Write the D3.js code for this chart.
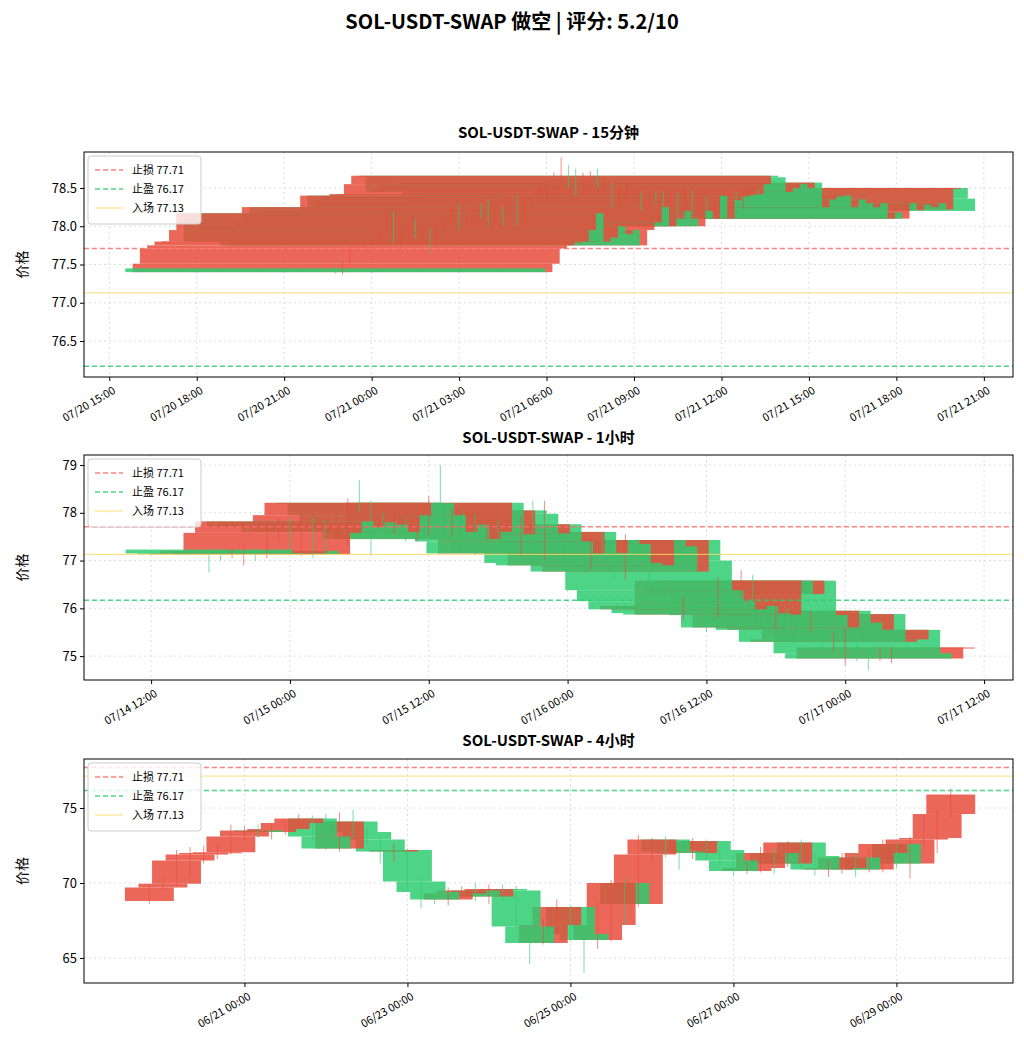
<!DOCTYPE html>
<html>
<head>
<meta charset="utf-8">
<script src="https://cdn.jsdelivr.net/npm/d3@7"></script>
<style>
  body { margin: 0; background: #fff; }
  text { font-family: "Noto Sans CJK SC", "DejaVu Sans", sans-serif; }
</style>
</head>
<body>
<svg id="chart" width="1024" height="1058"></svg>
<script>
'use strict';

// levels
var stopLoss = 77.71,
    takeProfit = 76.17,
    entry = 77.13;

// 15m
var start15 = '2025-07-20T22:45:00Z';
var open15First = 77.45;
var close15 = [77.40, 77.51, 77.71, 77.75, 77.80, 77.80, 77.95, 78.17, 77.80, 77.85,
  78.00, 77.90, 77.95, 77.75, 77.95, 78.05, 78.25, 78.00, 78.10, 78.20,
  78.10, 78.00, 78.20, 78.10, 78.40, 78.10, 78.34, 78.39, 78.42, 78.42,
  78.55, 78.66, 78.64, 78.45, 78.50, 78.55, 78.50, 78.57, 78.25, 78.35,
  78.40, 78.40, 78.25, 78.35, 78.30, 78.25, 78.30, 78.10, 78.18, 78.10,
  78.30, 78.21, 78.28, 78.25, 78.30, 78.22, 78.50, 78.50, 78.36, 78.20];
var high15 = [77.47, 77.55, 77.74, 77.78, 77.83, 77.84, 77.98, 78.20, 78.19, 77.95,
  78.05, 78.10, 78.00, 77.98, 78.05, 78.10, 78.28, 78.30, 78.20, 78.25,
  78.30, 78.35, 78.30, 78.25, 78.40, 78.30, 78.38, 78.45, 78.55, 78.60,
  78.70, 78.90, 78.80, 78.75, 78.70, 78.72, 78.75, 78.62, 78.55, 78.50,
  78.55, 78.50, 78.45, 78.45, 78.45, 78.45, 78.40, 78.45, 78.50, 78.48,
  78.40, 78.38, 78.35, 78.35, 78.45, 78.45, 78.52, 78.55, 78.50, 78.40];
var low15 = [77.38, 77.37, 77.49, 77.69, 77.72, 77.76, 77.78, 77.93, 77.78, 77.70,
  77.82, 77.85, 77.75, 77.65, 77.72, 77.90, 78.00, 77.95, 77.98, 78.05,
  78.10, 78.10, 78.05, 78.00, 78.15, 78.00, 78.05, 78.30, 78.35, 78.30,
  78.40, 78.50, 78.50, 78.40, 78.40, 78.45, 78.50, 78.45, 78.25, 78.20,
  78.30, 78.35, 78.20, 78.20, 78.30, 78.25, 78.25, 78.30, 78.35, 78.25,
  78.25, 78.15, 78.15, 78.20, 78.20, 78.25, 78.28, 78.40, 78.33, 78.18];

// 1h
var start1h = '2025-07-14T17:00:00Z';
var open1hFirst = 77.23;
var close1h = [77.15, 77.13, 77.15, 77.20, 77.13, 77.58, 77.82, 77.70, 77.80, 77.75,
  77.60, 77.95, 78.21, 78.20, 77.95, 77.60, 77.75, 77.45, 77.60, 78.21,
  77.55, 78.05, 77.98, 77.57, 77.76, 77.40, 77.15, 77.60, 77.16, 77.43,
  77.35, 76.95, 76.90, 77.43, 77.30, 76.77, 77.43, 77.00, 76.38, 76.15,
  75.98, 76.05, 75.90, 75.87, 76.58, 76.30, 76.58, 75.86, 75.60, 75.95,
  75.70, 75.55, 75.88, 75.30, 75.35, 75.55, 75.06, 74.95, 75.18, 75.18];
var high1h = [77.25, 77.20, 77.25, 77.30, 77.25, 77.65, 77.90, 77.90, 77.95, 77.90,
  77.85, 78.05, 78.30, 78.68, 78.25, 78.00, 78.00, 77.90, 77.70, 78.35,
  79.00, 78.10, 78.00, 77.80, 77.90, 77.85, 77.45, 77.95, 78.25, 78.25,
  77.55, 77.40, 77.10, 77.50, 77.60, 77.35, 77.55, 77.45, 77.05, 76.45,
  76.20, 76.25, 76.10, 76.00, 76.65, 76.60, 76.80, 76.70, 75.90, 76.10,
  76.00, 75.75, 75.95, 75.90, 75.50, 75.60, 75.60, 75.10, 75.20, 75.20];
var low1h = [76.75, 77.00, 77.05, 76.90, 77.00, 77.05, 77.40, 77.20, 77.10, 77.05,
  77.15, 77.50, 77.30, 78.00, 77.10, 77.50, 77.55, 77.40, 77.40, 77.55,
  77.20, 77.50, 77.20, 77.10, 77.40, 77.20, 77.05, 77.10, 77.00, 77.00,
  77.20, 76.85, 76.75, 76.80, 77.00, 76.60, 76.60, 76.80, 76.30, 76.05,
  75.85, 75.75, 75.60, 75.50, 75.80, 76.00, 76.20, 75.70, 75.40, 75.55,
  75.50, 75.30, 75.50, 75.20, 75.10, 74.80, 74.90, 74.70, 74.90, 74.85];

// 4h
var start4h = '2025-06-19T20:00:00Z';
var open4hFirst = 68.8;
var close4h = [69.7, 69.95, 71.5, 71.9, 72.0, 72.05, 73.1, 73.5, 73.4, 73.6,
  74.0, 74.3, 73.1, 72.3, 74.1, 73.4, 72.9, 72.1, 72.2, 70.1,
  69.4, 68.9, 69.3, 69.5, 69.1, 69.6, 69.5, 67.1, 66.0, 67.2,
  68.4, 66.6, 66.2, 67.2, 70.0, 68.6, 71.9, 72.9, 72.1, 72.0,
  72.8, 72.2, 71.5, 70.8, 71.0, 72.0, 71.3, 72.7, 71.8, 70.9,
  71.0, 71.7, 70.9, 72.0, 72.6, 71.3, 72.9, 73.0, 74.6, 75.9];
var high4h = [69.9, 70.3, 72.2, 72.4, 72.5, 72.6, 73.9, 73.8, 73.9, 74.0,
  74.2, 74.6, 74.5, 74.6, 74.7, 74.9, 73.6, 73.1, 72.6, 72.3,
  70.3, 69.6, 69.7, 69.8, 70.0, 69.9, 69.9, 69.8, 67.3, 67.6,
  68.9, 68.5, 66.9, 68.8, 70.2, 70.3, 73.2, 73.0, 73.1, 72.6,
  73.0, 72.9, 72.5, 71.8, 71.4, 72.4, 72.3, 72.8, 72.9, 72.0,
  71.5, 72.0, 72.0, 72.3, 72.9, 72.7, 73.1, 74.5, 74.9, 76.3];
var low4h = [68.6, 69.5, 69.8, 70.5, 71.3, 71.6, 71.9, 72.8, 73.0, 72.9,
  73.2, 73.8, 72.8, 72.2, 72.1, 73.0, 72.6, 71.3, 71.4, 69.7,
  68.3, 68.6, 68.5, 69.0, 68.8, 68.6, 68.8, 67.0, 64.6, 65.9,
  66.5, 66.1, 64.0, 65.6, 66.1, 67.2, 68.4, 71.5, 71.7, 70.9,
  71.6, 71.6, 71.2, 70.5, 70.6, 70.7, 70.6, 71.1, 70.9, 70.5,
  70.4, 70.6, 70.4, 70.7, 70.7, 71.0, 70.3, 72.5, 72.0, 74.4];

var HOUR = 3600 * 1000;
var UP = '#e74c3c',
    DOWN = '#2ecc71';

var svg = d3.select('#chart');

// candles come newest first, so older ones are drawn on top
var buildCandles = function (start, stepHours, firstOpen, closes, highs, lows) {
  var t0 = new Date(start).getTime();
  return closes.map(function (c, i) {
    var o = i === 0 ? firstOpen : closes[i - 1];
    return {
      t: new Date(t0 + i * stepHours * HOUR),
      o: o,
      c: c,
      h: Math.max(highs[i], o, c),
      l: Math.min(lows[i], o, c)
    };
  }).reverse();
};

var panels = [
  {
    title: 'SOL-USDT-SWAP - 15分钟',
    titleY: 138, top: 152, bottom: 377,
    xDomain: ['2025-07-20T14:08:00Z', '2025-07-21T22:00:00Z'],
    yDomain: [76.03, 78.97],
    yTicks: [76.5, 77.0, 77.5, 78.0, 78.5],
    yFmt: d3.format('.1f'),
    xTicks: d3.utcHour.every(3),
    candles: buildCandles(start15, 0.25, open15First, close15, high15, low15)
  },
  {
    title: 'SOL-USDT-SWAP - 1小时',
    titleY: 443, top: 455, bottom: 680,
    xDomain: ['2025-07-14T06:12:00Z', '2025-07-17T14:30:00Z'],
    yDomain: [74.5, 79.21],
    yTicks: [75, 76, 77, 78, 79],
    yFmt: d3.format('d'),
    xTicks: d3.utcHour.every(12),
    candles: buildCandles(start1h, 1, open1hFirst, close1h, high1h, low1h)
  },
  {
    title: 'SOL-USDT-SWAP - 4小时',
    titleY: 746, top: 759, bottom: 983,
    xDomain: ['2025-06-19T00:45:00Z', '2025-06-30T10:20:00Z'],
    yDomain: [63.33, 78.27],
    yTicks: [65, 70, 75],
    yFmt: d3.format('d'),
    xTicks: d3.utcDay.every(2),
    candles: buildCandles(start4h, 4, open4hFirst, close4h, high4h, low4h)
  }
];

var levels = [
  {label: '止损 ' + stopLoss, value: stopLoss, color: '#ff6b6b', dash: '5,3', width: 1.5, opacity: 0.85},
  {label: '止盈 ' + takeProfit, value: takeProfit, color: '#2ecc71', dash: '5,3', width: 1.5, opacity: 0.85},
  {label: '入场 ' + entry, value: entry, color: '#ffd966', dash: null, width: 1, opacity: 0.9}
];

svg.append('text')
    .attr('x', 512)
    .attr('y', 29)
    .attr('text-anchor', 'middle')
    .style('font-size', '20px')
    .style('font-weight', 'bold')
    .text('SOL-USDT-SWAP 做空 | 评分: 5.2/10');

var left = 84,
    right = 1013,
    halfBody = 7.2 * HOUR;

panels.forEach(function (p, pi) {
  var x = d3.scaleUtc()
      .domain(p.xDomain.map(function (d) { return new Date(d); }))
      .range([left, right]);
  var y = d3.scaleLinear().domain(p.yDomain).range([p.bottom, p.top]);
  var g = svg.append('g');
  var clipId = 'clip' + pi;

  g.append('clipPath').attr('id', clipId)
    .append('rect')
      .attr('x', left).attr('y', p.top)
      .attr('width', right - left).attr('height', p.bottom - p.top);

  // grid
  var xTickVals = x.ticks(p.xTicks);
  g.selectAll('.gx').data(xTickVals).enter().append('line')
      .attr('x1', function (d) { return x(d); })
      .attr('x2', function (d) { return x(d); })
      .attr('y1', p.top).attr('y2', p.bottom)
      .attr('stroke', '#ddd').attr('stroke-dasharray', '2,3');
  g.selectAll('.gy').data(p.yTicks).enter().append('line')
      .attr('x1', left).attr('x2', right)
      .attr('y1', function (d) { return y(d); })
      .attr('y2', function (d) { return y(d); })
      .attr('stroke', '#ddd').attr('stroke-dasharray', '2,3');

  var plot = g.append('g').attr('clip-path', 'url(#' + clipId + ')');

  // bodies
  plot.selectAll('rect.body').data(p.candles).enter().append('rect')
      .attr('class', 'body')
      .attr('x', function (d) { return x(new Date(d.t.getTime() - halfBody)); })
      .attr('width', function (d) {
        return x(new Date(d.t.getTime() + halfBody)) - x(new Date(d.t.getTime() - halfBody));
      })
      .attr('y', function (d) { return y(Math.max(d.o, d.c)); })
      .attr('height', function (d) { return Math.max(1, Math.abs(y(d.o) - y(d.c))); })
      .attr('fill', function (d) { return d.c >= d.o ? UP : DOWN; })
      .attr('fill-opacity', 0.85);

  // wicks
  plot.selectAll('line.wick').data(p.candles).enter().append('line')
      .attr('x1', function (d) { return x(d.t); })
      .attr('x2', function (d) { return x(d.t); })
      .attr('y1', function (d) { return y(d.h); })
      .attr('y2', function (d) { return y(d.l); })
      .attr('stroke', function (d) { return d.c >= d.o ? UP : DOWN; })
      .attr('stroke-opacity', 0.8)
      .attr('stroke-width', 0.8);

  // level lines
  levels.forEach(function (lv) {
    plot.append('line')
        .attr('x1', left).attr('x2', right)
        .attr('y1', y(lv.value)).attr('y2', y(lv.value))
        .attr('stroke', lv.color)
        .attr('stroke-width', lv.width)
        .attr('stroke-opacity', lv.opacity)
        .attr('stroke-dasharray', lv.dash);
  });

  // frame
  g.append('rect')
      .attr('x', left).attr('y', p.top)
      .attr('width', right - left).attr('height', p.bottom - p.top)
      .attr('fill', 'none').attr('stroke', '#000').attr('stroke-width', 1);

  // axes
  var yAxis = g.append('g')
      .attr('transform', 'translate(' + left + ',0)')
      .call(d3.axisLeft(y).tickValues(p.yTicks).tickFormat(p.yFmt).tickSize(4));
  yAxis.select('.domain').remove();
  yAxis.selectAll('text').style('font-size', '13px').attr('fill', '#000');

  var xAxis = g.append('g')
      .attr('transform', 'translate(0,' + p.bottom + ')')
      .call(d3.axisBottom(x).tickValues(xTickVals)
        .tickFormat(d3.utcFormat('%m/%d %H:%M')).tickSize(4));
  xAxis.select('.domain').remove();
  xAxis.selectAll('text')
      .style('font-size', '11px')
      .attr('fill', '#000')
      .attr('text-anchor', 'end')
      .attr('dx', '-0.2em')
      .attr('dy', '0.9em')
      .attr('transform', 'rotate(-30)');

  g.append('text')
      .attr('transform', 'translate(27,' + ((p.top + p.bottom) / 2) + ') rotate(-90)')
      .attr('text-anchor', 'middle')
      .style('font-size', '14px')
      .text('价格');

  g.append('text')
      .attr('x', (left + right) / 2)
      .attr('y', p.titleY)
      .attr('text-anchor', 'middle')
      .style('font-size', '15px')
      .style('font-weight', 'bold')
      .text(p.title);

  // legend
  var lg = g.append('g').attr('transform', 'translate(88,' + (p.top + 4) + ')');
  lg.append('rect')
      .attr('width', 113).attr('height', 68).attr('rx', 3)
      .attr('fill', '#fff').attr('fill-opacity', 0.8)
      .attr('stroke', '#ccc');
  levels.forEach(function (lv, i) {
    var ly = 14 + i * 19;
    lg.append('line')
        .attr('x1', 7).attr('x2', 35).attr('y1', ly).attr('y2', ly)
        .attr('stroke', lv.color)
        .attr('stroke-width', lv.width)
        .attr('stroke-opacity', lv.opacity)
        .attr('stroke-dasharray', lv.dash);
    lg.append('text')
        .attr('x', 44).attr('y', ly + 4)
        .style('font-size', '11px')
        .text(lv.label);
  });
});
</script>
</body>
</html>
